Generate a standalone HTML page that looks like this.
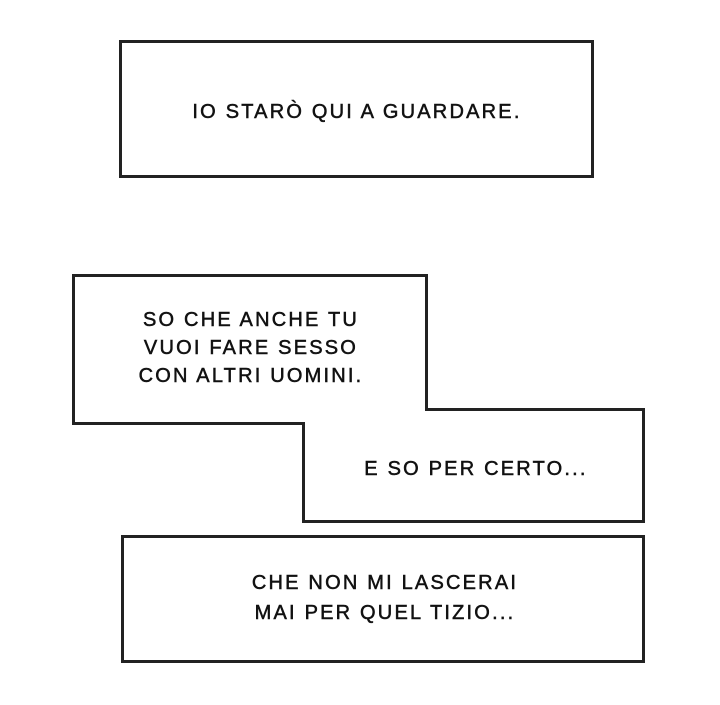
<!DOCTYPE html>
<html><head><style>
body{margin:0;background:#fff;width:720px;height:700px;overflow:hidden}
svg text{font-family:"Liberation Sans",sans-serif;font-size:20px;fill:#111;stroke:#111;stroke-width:0.5;letter-spacing:2.2px;text-anchor:middle}
</style></head><body>
<svg width="720" height="700" viewBox="0 0 720 700">
<g fill="#fff" stroke="#222" stroke-width="3">
<rect x="120.5" y="41.5" width="472" height="135"/>
<polygon points="73.5,275.5 426.5,275.5 426.5,409.5 643.5,409.5 643.5,521.5 303.5,521.5 303.5,423.5 73.5,423.5"/>
<rect x="122.5" y="536.5" width="521" height="125"/>
</g>
<text x="357" y="118">IO STARÒ QUI A GUARDARE.</text>
<text x="251" y="326">SO CHE ANCHE TU</text>
<text x="251" y="354">VUOI FARE SESSO</text>
<text x="251" y="382">CON ALTRI UOMINI.</text>
<text x="476" y="475">E SO PER CERTO...</text>
<text x="385" y="589">CHE NON MI LASCERAI</text>
<text x="385" y="619">MAI PER QUEL TIZIO...</text>
</svg>
</body></html>
